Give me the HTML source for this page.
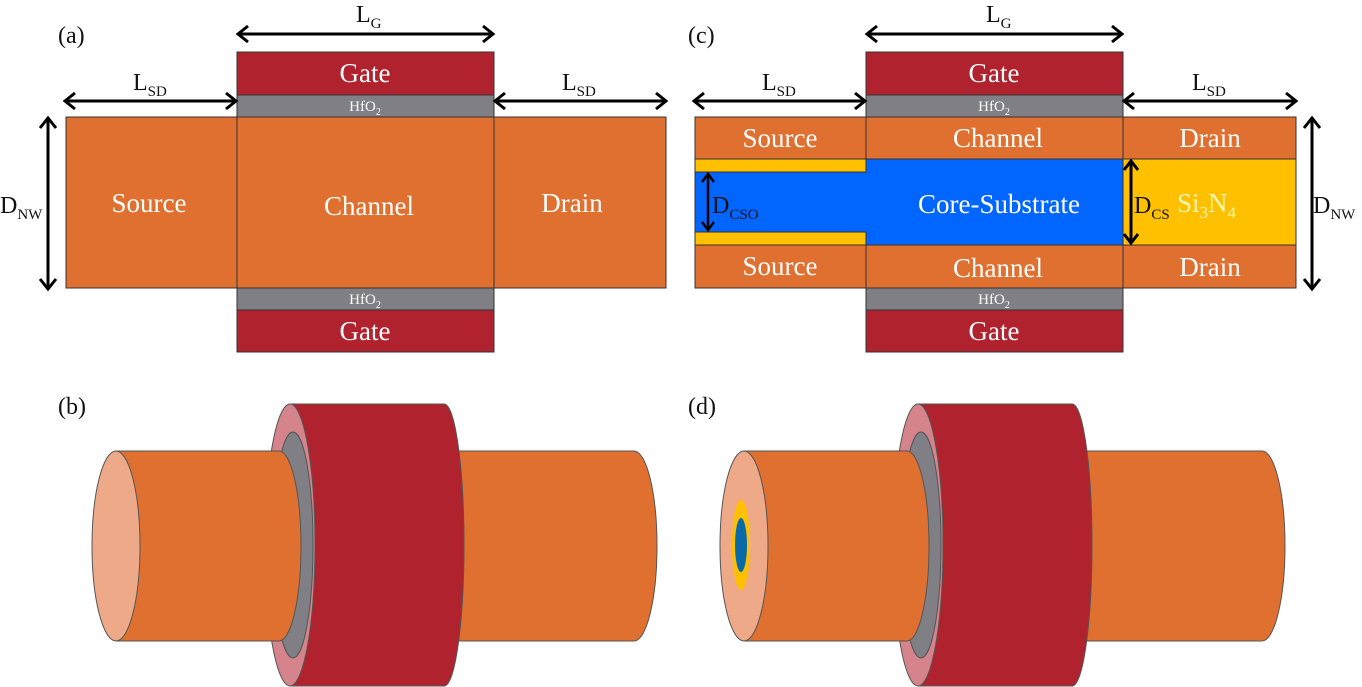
<!DOCTYPE html>
<html><head><meta charset="utf-8"><style>
html,body{margin:0;padding:0;background:#fff;}
svg{display:block;}
text{font-family:"Liberation Serif",serif;}
.w{fill:#fff;}
.k{fill:#111;}
</style></head><body>
<svg width="1362" height="687" viewBox="0 0 1362 687" xmlns="http://www.w3.org/2000/svg">
<g stroke="#333" stroke-width="1">
<rect x="237" y="52" width="257" height="43" fill="#b0232e"/>
<rect x="237" y="95" width="257" height="22" fill="#7f7f85"/>
<rect x="66" y="117" width="171" height="171" fill="#e07030"/>
<rect x="237" y="117" width="257" height="171" fill="#e07030"/>
<rect x="494" y="117" width="172" height="171" fill="#e07030"/>
<rect x="237" y="288" width="257" height="22" fill="#7f7f85"/>
<rect x="237" y="310" width="257" height="42" fill="#b0232e"/>
<rect x="866" y="52" width="257" height="43" fill="#b0232e"/>
<rect x="866" y="95" width="257" height="22" fill="#7f7f85"/>
<rect x="695" y="117" width="171" height="42" fill="#e07030"/>
<rect x="866" y="117" width="257" height="42" fill="#e07030"/>
<rect x="1123" y="117" width="173" height="42" fill="#e07030"/>
<rect x="695" y="159" width="171" height="13" fill="#ffc000"/>
<rect x="695" y="232" width="171" height="13" fill="#ffc000"/>
<rect x="1123" y="159" width="173" height="86" fill="#ffc000"/>
<path d="M695,172 H866 V159 H1123 V245 H866 V232 H695 Z" fill="#0066ff"/>
<rect x="695" y="245" width="171" height="43" fill="#e07030"/>
<rect x="866" y="245" width="257" height="43" fill="#e07030"/>
<rect x="1123" y="245" width="173" height="43" fill="#e07030"/>
<rect x="866" y="288" width="257" height="22" fill="#7f7f85"/>
<rect x="866" y="310" width="257" height="42" fill="#b0232e"/>
</g>
<g stroke="#000" stroke-width="3" fill="none">
<line x1="238" y1="34" x2="493" y2="34"/><polyline points="248,26 238,34 248,42"/><polyline points="483,26 493,34 483,42"/>
<line x1="65" y1="101" x2="236" y2="101"/><polyline points="75,93 65,101 75,109"/><polyline points="226,93 236,101 226,109"/>
<line x1="495" y1="101" x2="666" y2="101"/><polyline points="505,93 495,101 505,109"/><polyline points="656,93 666,101 656,109"/>
<line x1="48" y1="118" x2="48" y2="289"/><polyline points="40,128 48,118 56,128"/><polyline points="40,279 48,289 56,279"/>
<line x1="867" y1="34" x2="1122" y2="34"/><polyline points="877,26 867,34 877,42"/><polyline points="1112,26 1122,34 1112,42"/>
<line x1="694" y1="101" x2="865" y2="101"/><polyline points="704,93 694,101 704,109"/><polyline points="855,93 865,101 855,109"/>
<line x1="1124" y1="101" x2="1296" y2="101"/><polyline points="1134,93 1124,101 1134,109"/><polyline points="1286,93 1296,101 1286,109"/>
<line x1="1312" y1="118" x2="1312" y2="289"/><polyline points="1304,128 1312,118 1320,128"/><polyline points="1304,279 1312,289 1320,279"/>
<line x1="708" y1="174" x2="708" y2="230" stroke-width="2.5"/><polyline points="702,182 708,174 714,182" stroke-width="2.5"/><polyline points="702,222 708,230 714,222" stroke-width="2.5"/>
<line x1="1131" y1="161" x2="1131" y2="243"/><polyline points="1124,170 1131,161 1138,170"/><polyline points="1124,234 1131,243 1138,234"/>
</g>
<g font-size="24" class="k">
<text x="58" y="43">(a)</text><text x="688" y="43">(c)</text>
<text x="58" y="414">(b)</text><text x="688" y="414">(d)</text>
<text x="356" y="22">L<tspan font-size="15" dy="6">G</tspan></text>
<text x="986" y="22">L<tspan font-size="15" dy="6">G</tspan></text>
<text x="133" y="90">L<tspan font-size="15" dy="6">SD</tspan></text>
<text x="562" y="90">L<tspan font-size="15" dy="6">SD</tspan></text>
<text x="762" y="90">L<tspan font-size="15" dy="6">SD</tspan></text>
<text x="1192" y="90">L<tspan font-size="15" dy="6">SD</tspan></text>
<text x="0" y="213">D<tspan font-size="15" dy="6">NW</tspan></text>
<text x="1313" y="213">D<tspan font-size="15" dy="6">NW</tspan></text>
<text x="712" y="213">D<tspan font-size="15" dy="6">CSO</tspan></text>
<text x="1134" y="213">D<tspan font-size="15" dy="6">CS</tspan></text>
</g>
<g font-size="27" class="w" text-anchor="middle">
<text x="365" y="82">Gate</text><text x="365" y="340">Gate</text>
<text x="149" y="212">Source</text><text x="369" y="215">Channel</text><text x="572" y="212">Drain</text>
<text x="994" y="82">Gate</text><text x="994" y="340">Gate</text>
<text x="780" y="147">Source</text><text x="998" y="147">Channel</text><text x="1210" y="147">Drain</text>
<text x="780" y="275">Source</text><text x="998" y="277">Channel</text><text x="1210" y="276">Drain</text>
<text x="999" y="213">Core-Substrate</text>
</g>
<text x="1177" y="212" font-size="27" fill="#fff6b0" text-anchor="start">Si<tspan font-size="17" dy="6">3</tspan><tspan dy="-6">N</tspan><tspan font-size="17" dy="6">4</tspan></text>
<g font-size="15" class="w" text-anchor="middle">
<text x="365" y="111">HfO<tspan font-size="10" dy="4">2</tspan></text>
<text x="365" y="304">HfO<tspan font-size="10" dy="4">2</tspan></text>
<text x="994" y="111">HfO<tspan font-size="10" dy="4">2</tspan></text>
<text x="994" y="304">HfO<tspan font-size="10" dy="4">2</tspan></text>
</g>
<g stroke="#555" stroke-width="1">
<path d="M444,451 H634 A23,95 0 0 1 634,641 H444 Z" fill="#e07030"/>
<path d="M290,404 H444 A20,141 0 0 1 444,686 H290 Z" fill="#b0232e"/>
<ellipse cx="290" cy="545" rx="25" ry="141" fill="#d4848a"/>
<ellipse cx="293" cy="545" rx="20" ry="113" fill="#7f7f85"/>
<path d="M116,451 H279 A22,95 0 0 1 279,641 H116 Z" fill="#e07030"/>
<ellipse cx="116" cy="546" rx="24" ry="95" fill="#eeaa88"/>
</g>
<g transform="translate(628,0)" stroke="#555" stroke-width="1">
<path d="M444,451 H634 A23,95 0 0 1 634,641 H444 Z" fill="#e07030"/>
<path d="M290,404 H444 A20,141 0 0 1 444,686 H290 Z" fill="#b0232e"/>
<ellipse cx="290" cy="545" rx="25" ry="141" fill="#d4848a"/>
<ellipse cx="293" cy="545" rx="20" ry="113" fill="#7f7f85"/>
<path d="M116,451 H279 A22,95 0 0 1 279,641 H116 Z" fill="#e07030"/>
<ellipse cx="116" cy="546" rx="24" ry="95" fill="#eeaa88"/>
<ellipse cx="113" cy="545" rx="9" ry="45" fill="#ffc000" stroke="none"/>
<ellipse cx="113" cy="545" rx="6" ry="27" fill="#0a6aa8" stroke="none"/>
</g>
</svg>
</body></html>
